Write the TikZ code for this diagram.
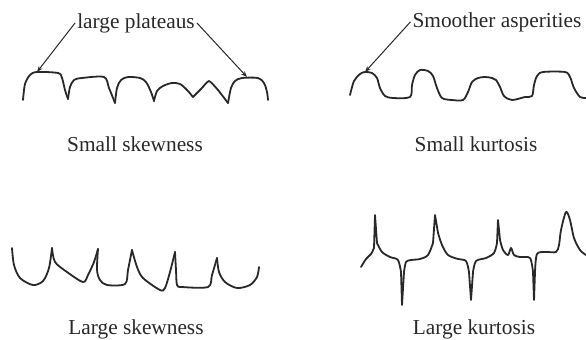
\documentclass[tikz,border=0pt]{standalone}
\usepackage{fontspec}
\setmainfont{Liberation Serif}
\usetikzlibrary{arrows.meta}
\definecolor{inkgray}{RGB}{40,40,40}
\tikzset{
  profile/.style={line width=1.8bp, line cap=round, line join=round, draw=inkgray},
  callout/.style={line width=1bp, draw=inkgray, -{Stealth[length=6bp,width=4.5bp]}},
  caption/.style={font=\fontsize{21.4}{24}\selectfont, text=inkgray, anchor=base, inner sep=2bp},
}

\begin{document}
\begin{tikzpicture}[x=1bp, y=-1bp]
    \useasboundingbox (0,0) rectangle (586,339);

    % small skewness: flat tops
    \draw[profile] plot[smooth] coordinates {(23,100) (25,84) (30,75) (37,72) (58,73) (62,78) (65,90) (68,99)};
    \draw[profile] plot[smooth] coordinates {(68,99) (70,87) (74,80) (82,78) (104,77) (109,88) (115,103)};
    \draw[profile] plot[smooth] coordinates {(115,103) (117,88) (121,80) (128,77) (140,78) (146,82) (151,92) (154,101)};
    \draw[profile] plot[smooth] coordinates {(154,101) (157,91) (163,86) (172,83) (180,84) (187,90) (193,97)};
    \draw[profile] plot[smooth, tension=0.3] coordinates {(193,97) (201,89) (209,81) (218,90) (228,103)};
    \draw[profile] plot[smooth] coordinates {(228,103) (231,88) (235,81) (242,78) (258,78) (264,83) (267,92) (268,100)};
    \coordinate (platL) at (37,72);
    \coordinate (platR) at (247,77);
    \node[caption] (lblplat) at (136,28) {large plateaus};
    \draw[callout] (lblplat.west) -- (platL);
    \draw[callout] (lblplat.east) -- (platR);
    \node[caption] (capss) at (135,151) {Small skewness};

    % small kurtosis: rounded bumps
    \draw[profile] plot[smooth] coordinates {(350,95) (354,81) (360,74) (365,72) (372,73) (377,78) (380,88) (385,96) (393,98) (410,97) (412,85) (415,75) (420,70) (428,71) (433,76) (437,88) (442,98) (452,100) (463,100) (468,92) (472,82) (478,78) (485,77) (492,78) (496,80) (500,87) (504,96) (512,100) (525,97) (532,96) (534,85) (537,76) (543,72) (565,72) (570,77) (574,88) (580,97) (586,98)};
    \coordinate (asp) at (365,72);
    \node[caption] (lblsmooth) at (497,27) {Smoother asperities};
    \draw[callout] (lblsmooth.west) -- (asp);
    \node[caption] (capsk) at (476,151) {Small kurtosis};

    % large skewness: sharp peaks
    \draw[profile] plot[smooth] coordinates {(12,248) (14,265) (20,278) (33,285) (43,281) (49,268) (52,248)};
    \draw[profile] plot[smooth] coordinates {(52,248) (55,262) (67,272) (83,282) (88,275) (94,262) (98,249)};
    \draw[profile] plot[smooth] coordinates {(98,249) (97,270) (100,280) (107,285) (125,284) (128,270) (132,250)};
    \draw[profile] plot[smooth] coordinates {(132,250) (137,267) (143,278) (160,290) (165,288) (170,272) (175,252)};
    \draw[profile] plot[smooth] coordinates {(175,252) (176,270) (177,285) (182,287) (208,287) (212,275) (217,258)};
    \draw[profile] plot[smooth] coordinates {(217,258) (219,272) (225,282) (237,288) (250,285) (257,277) (259,267)};
    \node[caption] (capls) at (136,334) {Large skewness};

    % large kurtosis: spikes
    \draw[profile] plot[smooth] coordinates {(361,267) (366,259) (371,254) (374,248)} -- (375,215)
      -- plot[smooth] coordinates {(377,243) (382,252) (390,257) (398,260) (401,272)} -- (402,305)
      -- plot[smooth] coordinates {(404,272) (406,262) (411,260) (420,259) (428,255) (433,243)} -- (435,215)
      -- plot[smooth] coordinates {(438,233) (442,245) (448,255) (458,259) (466,261) (469,272)} -- (471,300)
      -- plot[smooth] coordinates {(473,272) (476,261) (486,258) (494,253) (497,243)} -- (498,220)
      -- plot[smooth] coordinates {(500,240) (503,250) (508,255) (511,248) (514,255) (520,257) (530,258) (533,272)} -- (534,300)
      -- plot[smooth] coordinates {(535,272) (537,254) (546,252) (556,252) (559,245) (561,230) (566,212) (570,220) (574,238) (580,250) (586,255)};
    \node[caption] (caplk) at (474,334) {Large kurtosis};
\end{tikzpicture}
\end{document}
